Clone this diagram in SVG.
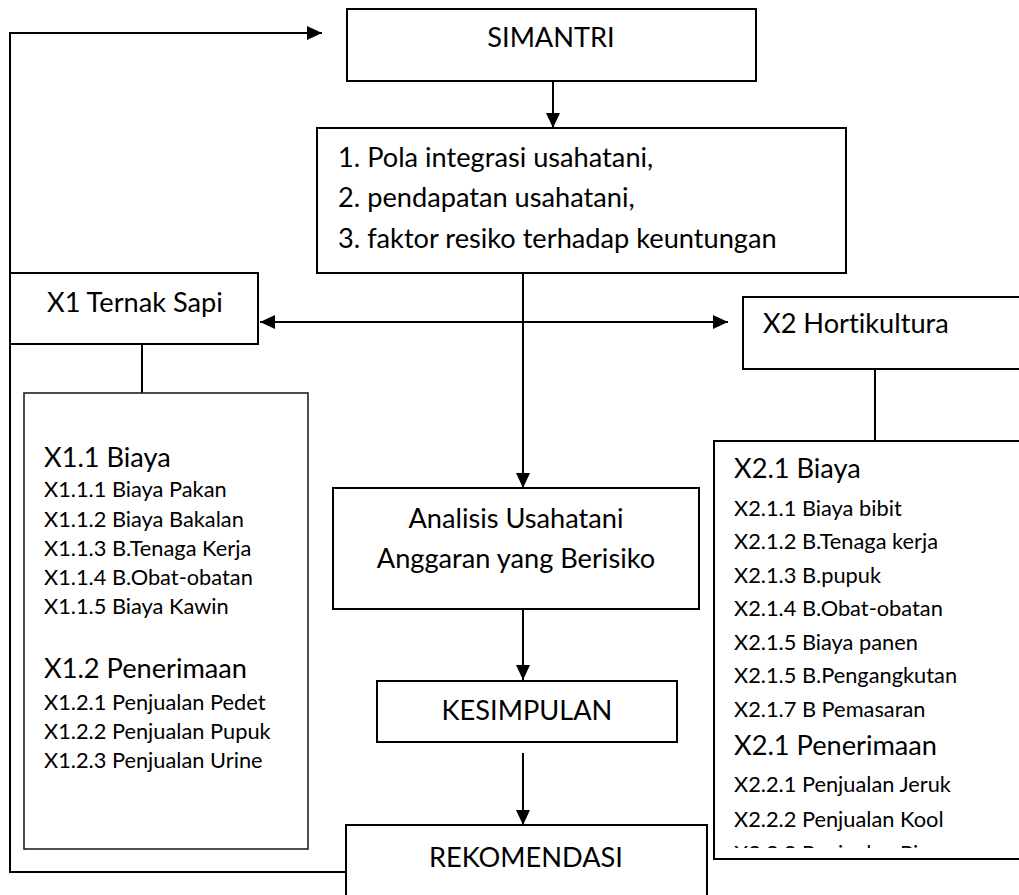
<svg xmlns="http://www.w3.org/2000/svg" width="1019" height="895" viewBox="0 0 1019 895">
<style>
.box{fill:#fff;stroke:#000;stroke-width:2}
.thin{fill:#fff;stroke:#222;stroke-width:1.6}
.ln{fill:none;stroke:#000;stroke-width:2}
text{font-family:Lato,"Liberation Sans",sans-serif;fill:#000;font-variant-ligatures:none}
.big{font-size:27.2px}
.sm{font-size:21.8px}
.c{text-anchor:middle}
</style>
<defs>
<marker id="ah" markerUnits="userSpaceOnUse" markerWidth="16" markerHeight="14" refX="15" refY="7" orient="auto-start-reverse">
<path d="M0,0 L15,7 L0,14 Z" fill="#000"/>
</marker>
<clipPath id="clipX2"><rect x="714" y="441" width="305" height="407"/></clipPath>
</defs>
<rect width="1019" height="895" fill="#fff"/>
<g id="connectors">
<path class="ln" d="M346,872 H10 V33 H322" marker-end="url(#ah)"/>
<path class="ln" d="M553,81 V128" marker-end="url(#ah)"/>
<path class="ln" d="M523,273 V488" marker-end="url(#ah)"/>
<path class="ln" d="M260,322 H728" marker-start="url(#ah)" marker-end="url(#ah)"/>
<path class="ln" d="M142,344 V393"/>
<path class="ln" d="M875,369 V441"/>
<path class="ln" d="M523,609 V680" marker-end="url(#ah)"/>
<path class="ln" d="M523,753 V825" marker-end="url(#ah)"/>
</g>
<g id="simantri">
<rect class="box" x="347" y="9" width="409" height="72"/>
<text class="big c" x="551" y="47">SIMANTRI</text>
</g>
<g id="tujuan">
<rect class="box" x="317" y="128" width="529" height="145"/>
<text class="big" x="338" y="167">1. Pola integrasi usahatani,</text>
<text class="big" x="338" y="207">2. pendapatan usahatani,</text>
<text class="big" x="338" y="248">3. faktor resiko terhadap keuntungan</text>
</g>
<g id="x1">
<rect class="box" x="10" y="273" width="248" height="71"/>
<text class="big" x="47" y="312">X1 Ternak Sapi</text>
</g>
<g id="x2">
<rect class="box" x="743" y="297" width="300" height="72"/>
<text class="big" x="763" y="333">X2 Hortikultura</text>
</g>
<g id="x1detail">
<rect class="thin" x="24" y="393" width="284" height="456"/>
<text class="big" x="44" y="467">X1.1 Biaya</text>
<text class="sm" x="44" y="497">X1.1.1 Biaya Pakan</text>
<text class="sm" x="44" y="527">X1.1.2 Biaya Bakalan</text>
<text class="sm" x="44" y="556">X1.1.3 B.Tenaga Kerja</text>
<text class="sm" x="44" y="585">X1.1.4 B.Obat-obatan</text>
<text class="sm" x="44" y="614">X1.1.5 Biaya Kawin</text>
<text class="big" x="44" y="678">X1.2 Penerimaan</text>
<text class="sm" x="44" y="710">X1.2.1 Penjualan Pedet</text>
<text class="sm" x="44" y="739">X1.2.2 Penjualan Pupuk</text>
<text class="sm" x="44" y="768">X1.2.3 Penjualan Urine</text>
</g>
<g id="x2detail">
<rect class="box" x="714" y="441" width="320" height="418"/>
<g clip-path="url(#clipX2)">
<text class="big" x="734" y="478">X2.1 Biaya</text>
<text class="sm" x="734" y="516">X2.1.1 Biaya bibit</text>
<text class="sm" x="734" y="549">X2.1.2 B.Tenaga kerja</text>
<text class="sm" x="734" y="583">X2.1.3 B.pupuk</text>
<text class="sm" x="734" y="616">X2.1.4 B.Obat-obatan</text>
<text class="sm" x="734" y="650">X2.1.5 Biaya panen</text>
<text class="sm" x="734" y="683">X2.1.5 B.Pengangkutan</text>
<text class="sm" x="734" y="717">X2.1.7 B Pemasaran</text>
<text class="big" x="734" y="755">X2.1 Penerimaan</text>
<text class="sm" x="734" y="792">X2.2.1 Penjualan Jeruk</text>
<text class="sm" x="734" y="827">X2.2.2 Penjualan Kool</text>
<text class="sm" x="734" y="861">X2.2.3 Penjualan Pisang</text>
</g>
</g>
<g id="analisis">
<rect class="box" x="333" y="488" width="366" height="121"/>
<text class="big c" x="516" y="528">Analisis Usahatani</text>
<text class="big c" x="516" y="568">Anggaran yang Berisiko</text>
</g>
<g id="kesimpulan">
<rect class="box" x="377" y="681" width="300" height="61"/>
<text class="big c" x="527" y="720">KESIMPULAN</text>
</g>
<g id="rekomendasi">
<rect class="box" x="346" y="825" width="361" height="100"/>
<text class="big c" x="526" y="867">REKOMENDASI</text>
</g>
</svg>
